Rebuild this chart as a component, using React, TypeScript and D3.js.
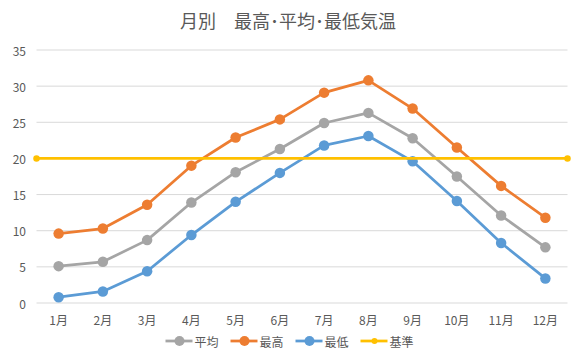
import * as d3 from 'd3';

const months = ['1月', '2月', '3月', '4月', '5月', '6月', '7月', '8月', '9月', '10月', '11月', '12月'];
const avgTemp = [5.1, 5.7, 8.7, 13.9, 18.1, 21.3, 24.9, 26.3, 22.8, 17.5, 12.1, 7.7];
const maxTemp = [9.6, 10.3, 13.6, 19.0, 22.9, 25.4, 29.1, 30.8, 26.9, 21.5, 16.2, 11.8];
const minTemp = [0.8, 1.6, 4.4, 9.4, 14.0, 18.0, 21.8, 23.1, 19.6, 14.1, 8.3, 3.4];
const baseLine = 20;
const yTicks = [0, 5, 10, 15, 20, 25, 30, 35];

const series = [
  { name: '平均', values: avgTemp, color: '#A5A5A5' },
  { name: '最高', values: maxTemp, color: '#ED7D31' },
  { name: '最低', values: minTemp, color: '#5B9BD5' },
];

const W = 576, H = 362;
const margin = { top: 50, right: 8.5, bottom: 59, left: 36.5 };
const font = '"Noto Sans CJK JP", "Noto Sans", sans-serif';
const textColor = '#595959';

const App = () => {
  const x = d3.scaleBand().domain(months).range([margin.left, W - margin.right]);
  const y = d3.scaleLinear().domain([0, 35]).range([H - margin.bottom, margin.top]);
  const cx = (m: string) => (x(m) ?? 0) + x.bandwidth() / 2;
  const line = d3.line<number>().x((_, i) => cx(months[i])).y(d => y(d));
  const [x0, x1] = x.range();

  const legendItems = [...series.map(s => ({ name: s.name, color: s.color, r: 5 })), { name: '基準', color: '#FFC000', r: 3 }];
  const legendStep = 65;
  const legendStart = 179.5;

  return (
    <svg width={W} height={H} style={{ position: 'absolute', left: 0, top: 0, fontFamily: font }}>
      <rect width={W} height={H} fill="#fff" />
      <text x={W / 2} y={20} textAnchor="middle" dominantBaseline="central" fontSize={18} fill={textColor}>
        月別　最高･平均･最低気温
      </text>

      {yTicks.map(t => (
        <g key={t}>
          <line x1={x0} x2={x1} y1={y(t)} y2={y(t)} stroke="#D9D9D9" strokeWidth={1} />
          <text x={26} y={y(t)} textAnchor="end" dominantBaseline="central" fontSize={12} fill={textColor}>{t}</text>
        </g>
      ))}

      {months.map(m => (
        <text key={m} x={cx(m)} y={319} textAnchor="middle" dominantBaseline="central" fontSize={12} fill={textColor}>{m}</text>
      ))}

      {series.map(s => (
        <g key={s.name}>
          <path d={line(s.values) ?? ''} fill="none" stroke={s.color} strokeWidth={2.75} strokeLinejoin="round" />
          {s.values.map((v, i) => (
            <circle key={i} cx={cx(months[i])} cy={y(v)} r={5.25} fill={s.color} />
          ))}
        </g>
      ))}

      <line x1={x0} x2={x1} y1={y(baseLine)} y2={y(baseLine)} stroke="#FFC000" strokeWidth={2.75} />
      <circle cx={x0} cy={y(baseLine)} r={3.25} fill="#FFC000" />
      <circle cx={x1} cy={y(baseLine)} r={3.25} fill="#FFC000" />

      {legendItems.map((it, i) => {
        const mx = legendStart + i * legendStep;
        return (
          <g key={it.name}>
            <line x1={mx - 14} x2={mx + 13} y1={341} y2={341} stroke={it.color} strokeWidth={2.75} />
            <circle cx={mx} cy={341} r={it.r} fill={it.color} />
            <text x={mx + 15} y={341} dominantBaseline="central" fontSize={12} fill={textColor}>{it.name}</text>
          </g>
        );
      })}
    </svg>
  );
};

export default App;
